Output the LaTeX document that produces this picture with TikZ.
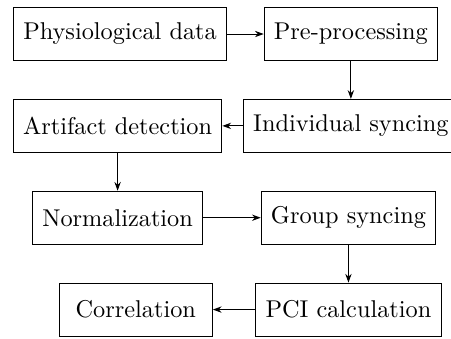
\documentclass[tikz,border=0pt]{standalone}
\usepackage{xcolor}
\usepackage{tikz}
\usetikzlibrary{positioning, arrows.meta}

\begin{document}
\begin{tikzpicture}[
        node distance=37.8pt and 95pt,
        on grid,
        >={Stealth[length=3.6pt, width=2.6pt]},
        stage/.style={draw, minimum height=21.8pt, inner xsep=4pt},
      ]
      \useasboundingbox (-49.4pt,14pt) rectangle (136.2pt,-125.5pt);

      \node[stage] (data) {Physiological data};
      \node[stage, right=of data] (prep) {Pre-processing};

      \node[stage, below=of prep] (indiv) {Individual syncing};
      \node[stage, left=96pt of indiv] (artif) {Artifact detection};

      \node[stage, below=of artif] (norm) {Normalization};
      \node[stage, right=of norm] (group) {Group syncing};

      \node[stage, below=of group] (pci) {PCI calculation};
      \node[stage, minimum width=63pt, left=87.5pt of pci] (corr) {Correlation};

      \draw[->] (data) -- (prep);
      \draw[->] (prep.south) -- (prep.south |- indiv.north);
      \draw[->] (indiv) -- (artif);
      \draw[->] (artif.south) -- (artif.south |- norm.north);
      \draw[->] (norm) -- (group);
      \draw[->] (group.south) -- (group.south |- pci.north);
      \draw[->] (pci) -- (corr);

    \end{tikzpicture}
\end{document}
